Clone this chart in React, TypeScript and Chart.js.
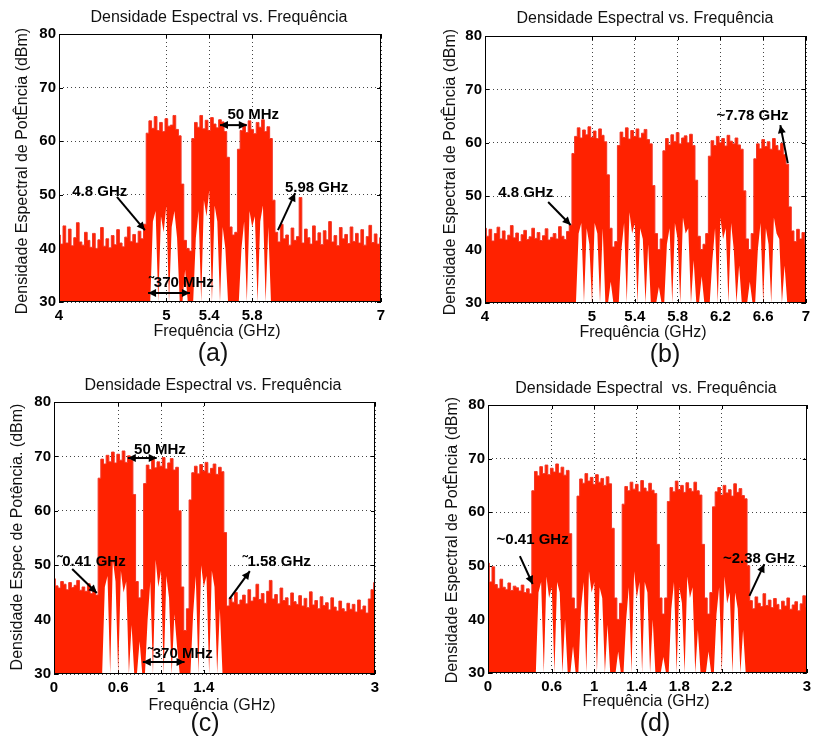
import React, { useEffect, useRef } from "react";
import { Chart, registerables } from "chart.js";

Chart.register(...registerables);

const FONT = "'Liberation Sans', Arial, Helvetica, sans-serif";
const RED = "#ff2200";
const STEP = 0.025;
const Y_TICKS = [30, 40, 50, 60, 70, 80];

// ---------- Panel (a) : 4 - 7 GHz, 3 bands ----------
const A_START = 4;
const A_END = 7;
const A_XTICKS = [4, 5, 5.4, 5.8, 7];
const A_HI = [
  42.5, 40.8, 44.2, 41.0, 43.6, 40.5, 42.0, 44.8, 41.2, 40.6,
  43.0, 41.5, 40.2, 42.8, 40.0, 41.6, 43.9, 40.4, 41.8, 40.1,
  42.4, 40.7, 43.5, 41.0, 40.3, 42.1, 44.0, 41.3, 42.6, 41.0,
  43.2, 41.8, 44.5,
  61.5, 63.8, 62.4, 64.6, 62.0, 63.5, 61.8, 64.2, 62.8, 63.0, 64.8, 62.2, 61.0,
  52.0, 41.5, 40.0, 39.5,
  60.5, 63.5, 62.6, 64.8, 62.3, 63.9, 62.0, 64.4, 63.2, 62.5, 64.0, 63.6, 61.8,
  57.0, 44.0, 42.5, 43.0,
  58.5, 62.0, 63.2, 61.6, 63.8, 62.2, 61.4, 63.5, 62.6, 64.0, 61.8, 62.7, 60.5,
  49.0,
  43.0, 41.2, 44.5, 41.8, 42.5, 40.6, 43.8, 41.5, 42.2, 49.5,
  41.0, 43.6, 42.0, 40.8, 44.2, 41.4, 42.9, 40.7, 43.3, 41.6,
  45.0, 41.2, 42.4, 40.5, 43.9, 41.8, 42.6, 40.9, 44.0, 41.3,
  42.8, 41.0, 43.5, 40.6, 42.2, 44.3, 41.1, 42.7, 40.8, 42.0,
];
const A_LO = [
  30, 30, 30, 30, 30, 30, 30, 30, 30, 30,
  30, 30, 30, 30, 30, 30, 30, 30, 30, 30,
  30, 30, 30, 30, 30, 30, 30, 30, 30, 30,
  30, 30, 30,
  30, 30, 45, 47, 30, 46, 43, 48, 30, 44, 47, 42, 30,
  30, 36, 30, 30,
  30, 42, 47, 30, 49, 46, 51, 30, 48, 45, 30, 44, 40,
  30, 30, 30, 30,
  30, 40, 45, 30, 47, 44, 46, 30, 45, 48, 30, 44, 30,
  30,
  30, 30, 30, 30, 30, 30, 30, 30, 30, 30,
  30, 30, 30, 30, 30, 30, 30, 30, 30, 30,
  30, 30, 30, 30, 30, 30, 30, 30, 30, 30,
  30, 30, 30, 30, 30, 30, 30, 30, 30, 30,
];

// ---------- Panel (b) : 4 - 7 GHz, 5 bands ----------
const B_START = 4;
const B_END = 7;
const B_XTICKS = [4, 5, 5.4, 5.8, 6.2, 6.6, 7];
const B_HI = [
  44.0, 42.5, 43.8, 41.6, 43.0, 44.2, 42.0, 43.5, 41.8, 42.7,
  44.5, 42.2, 43.1, 41.5, 42.8, 43.6, 41.9, 42.4, 44.0, 42.1,
  43.2, 41.7, 42.6, 43.9, 41.8, 42.3, 43.0, 42.0, 44.3, 42.5,
  41.9, 43.4, 44.6,
  58.0, 61.2, 62.8, 60.9, 62.4, 61.5, 63.0, 61.0, 62.2, 60.8, 62.6, 61.4, 60.2,
  54.0,
  44.0, 40.5, 41.5,
  59.5, 62.0, 61.0, 62.8, 60.7, 62.3, 61.2, 62.6, 60.9, 61.8, 62.5, 60.6, 59.8,
  52.0,
  43.0, 40.0, 42.0,
  58.5, 60.8, 59.6, 61.5, 60.2, 61.9, 59.8, 60.9, 61.3, 60.0, 61.6, 59.5,
  53.0,
  42.5, 40.0, 41.0, 43.0,
  57.5, 60.4, 59.5, 61.2, 60.0, 60.8, 59.4, 61.4, 60.3, 59.8, 60.9, 59.6, 58.8,
  51.0,
  42.0, 40.0, 43.0,
  57.0, 59.8, 58.9, 60.6, 59.3, 60.2, 58.8, 60.8, 59.5, 58.6, 59.9, 57.8, 56.0,
  48.0,
  43.5, 41.5, 43.8, 42.0, 43.2, 41.0,
];
const B_LO = [
  30, 30, 30, 30, 30, 30, 30, 30, 30, 30,
  30, 30, 30, 30, 30, 30, 30, 30, 30, 30,
  30, 30, 30, 30, 30, 30, 30, 30, 30, 30,
  30, 30, 30,
  30, 30, 43, 45, 30, 44, 41, 30, 45, 43, 30, 44, 30,
  30,
  34, 30, 30,
  30, 40, 45, 30, 47, 43, 45, 30, 44, 42, 30, 41, 30,
  30,
  30, 33, 30,
  30, 41, 44, 30, 45, 42, 30, 46, 43, 44, 30, 38,
  30,
  30, 35, 30, 30,
  30, 38, 44, 30, 46, 42, 44, 30, 45, 40, 30, 37, 30,
  30,
  30, 34, 30,
  30, 40, 45, 30, 44, 41, 30, 46, 43, 42, 30, 37, 30,
  30, 30, 30, 30, 30, 30, 30,
];

// ---------- Panel (c) : 0 - 3 GHz, 3 bands ----------
const C_START = 0;
const C_END = 3;
const C_XTICKS = [0, 0.6, 1, 1.4, 3];
const C_HI = [
  47.5, 46.2, 45.8, 47.0, 46.5, 45.5, 46.8, 45.9, 46.3, 47.2,
  45.4, 46.0, 45.2, 46.6, 44.8, 45.5, 44.5,
  66.0, 69.5, 68.6, 70.2, 69.0, 70.8, 68.8, 70.4, 69.3, 71.0, 68.9, 70.1, 69.4,
  63.0,
  47.0, 44.0, 45.5,
  65.0, 68.4, 67.6, 69.5, 67.9, 69.0, 68.2, 69.8, 67.7, 68.8, 69.6, 67.5, 68.0,
  60.0,
  46.0, 38.0, 42.0,
  62.0, 67.0, 68.2, 66.8, 68.5, 67.3, 68.9, 66.9, 67.8, 68.6, 66.7, 68.0, 67.2,
  56.0,
  42.5, 44.0, 43.2, 45.0, 42.8, 43.6, 44.5, 42.9, 45.5, 43.4,
  44.1, 46.5, 43.7, 44.8, 43.0, 45.2, 47.2, 43.8, 44.6, 42.9,
  45.8, 43.5, 44.0, 42.6, 44.9, 43.3, 42.8, 44.4, 42.5, 43.9,
  42.2, 45.1, 42.7, 43.5, 42.0, 44.2, 42.6, 43.1, 41.8, 44.0,
  42.3, 41.6, 43.4, 42.0, 41.5, 43.0, 41.9, 42.8, 41.4, 43.6,
  41.8, 42.5, 41.2, 43.8, 45.5, 46.8,
];
const C_LO = [
  30, 30, 30, 30, 30, 30, 30, 30, 30, 30,
  30, 30, 30, 30, 30, 30, 30,
  30, 30, 46, 48, 30, 51, 47, 30, 49, 45, 47, 30, 39,
  30,
  30, 36, 30,
  30, 40, 47, 30, 51, 46, 49, 30, 48, 44, 30, 41, 35,
  30,
  30, 30, 30,
  30, 41, 48, 30, 50, 46, 48, 30, 49, 46, 30, 42, 30,
  30, 30, 30, 30, 30, 30, 30, 30, 30, 30,
  30, 30, 30, 30, 30, 30, 30, 30, 30, 30,
  30, 30, 30, 30, 30, 30, 30, 30, 30, 30,
  30, 30, 30, 30, 30, 30, 30, 30, 30, 30,
  30, 30, 30, 30, 30, 30, 30, 30, 30, 30,
  30, 30, 30, 30, 30, 30, 30,
];

// ---------- Panel (d) : 0 - 3 GHz, 5 bands ----------
const D_START = 0;
const D_END = 3;
const D_XTICKS = [0, 0.6, 1, 1.4, 1.8, 2.2, 3];
const D_HI = [
  50.5, 47.0, 49.8, 46.5, 45.8, 47.5, 46.0, 45.6, 46.8, 45.4,
  46.2, 45.9, 45.3, 46.4, 45.0, 45.7, 44.8,
  64.0, 67.6, 66.8, 68.5, 67.2, 68.8, 67.0, 68.2, 67.5, 69.0, 67.3, 68.4, 66.9, 67.8,
  56.0,
  44.0, 42.0,
  63.0, 66.2, 65.4, 67.2, 65.8, 66.5, 65.2, 67.0, 65.6, 66.3, 65.0, 66.6, 65.3,
  57.0,
  44.0, 40.0, 43.0,
  61.5, 64.8, 64.0, 65.6, 64.3, 65.2, 63.8, 65.9, 64.5, 63.9, 65.4, 64.1, 63.5,
  54.0,
  44.0, 41.0, 44.0,
  62.0, 64.6, 63.8, 65.8, 64.2, 65.0, 63.7, 65.5, 64.4, 63.9, 65.6, 64.0, 63.2,
  54.0,
  44.0, 41.0, 45.0,
  61.0, 63.8, 64.6, 63.2, 65.0, 63.6, 64.2, 63.0, 65.3, 63.7, 64.4, 63.1, 62.5,
  50.0,
  43.5, 42.0, 44.2, 43.0, 42.4, 44.8, 42.6, 43.6, 42.2, 43.9,
  42.8, 41.8, 43.4, 42.5, 44.0, 41.9, 42.7, 43.3, 41.6, 42.9,
  44.4, 42.3,
];
const D_LO = [
  30, 30, 30, 30, 30, 30, 30, 30, 30, 30,
  30, 30, 30, 30, 30, 30, 30,
  30, 30, 45, 47, 30, 48, 44, 46, 30, 47, 45, 30, 40, 30,
  30,
  35, 30,
  30, 42, 47, 30, 49, 45, 47, 30, 46, 44, 30, 39, 30,
  30,
  30, 34, 30,
  30, 40, 46, 30, 49, 44, 47, 30, 47, 45, 30, 40, 30,
  30,
  30, 33, 30,
  30, 42, 47, 30, 46, 43, 30, 48, 44, 46, 30, 38, 30,
  30,
  30, 34, 30,
  30, 41, 46, 30, 48, 43, 45, 30, 45, 42, 30, 38, 30,
  30, 30, 30, 30, 30, 30, 30, 30, 30, 30,
  30, 30, 30, 30, 30, 30, 30, 30, 30, 30,
  30, 30, 30,
];

// ---------- annotations (data coordinates) ----------
type Label = { text: string; x: number; y: number };
type Arrow = { x1: number; y1: number; x2: number; y2: number; both?: boolean };

const A_LABELS: Label[] = [
  { text: "4.8 GHz", x: 4.38, y: 50.5 },
  { text: "5.98 GHz", x: 6.4, y: 51.3 },
  { text: "50 MHz", x: 5.81, y: 64.9 },
  { text: "\u02DC370 MHz", x: 5.14, y: 33.5 },
];
const A_ARROWS: Arrow[] = [
  { x1: 4.54, y1: 49.6, x2: 4.8, y2: 43.4 },
  { x1: 6.04, y1: 43.4, x2: 6.2, y2: 50.3 },
  { x1: 5.5, y1: 63.0, x2: 5.75, y2: 63.0, both: true },
  { x1: 4.83, y1: 31.7, x2: 5.22, y2: 31.7, both: true },
];
const B_LABELS: Label[] = [
  { text: "4.8 GHz", x: 4.38, y: 50.6 },
  { text: "~7.78 GHz", x: 6.5, y: 65.0 },
];
const B_ARROWS: Arrow[] = [
  { x1: 4.59, y1: 48.9, x2: 4.8, y2: 44.6 },
  { x1: 6.83, y1: 56.2, x2: 6.76, y2: 63.3 },
];
const C_LABELS: Label[] = [
  { text: "\u02DC0.41 GHz", x: 0.35, y: 50.6 },
  { text: "\u02DC1.58 GHz", x: 2.08, y: 50.6 },
  { text: "50 MHz", x: 0.99, y: 71.2 },
  { text: "\u02DC370 MHz", x: 1.18, y: 33.7 },
];
const C_ARROWS: Arrow[] = [
  { x1: 0.17, y1: 49.3, x2: 0.4, y2: 44.9 },
  { x1: 1.64, y1: 43.8, x2: 1.83, y2: 48.9 },
  { x1: 0.69, y1: 69.7, x2: 0.96, y2: 69.7, both: true },
  { x1: 0.83, y1: 32.2, x2: 1.22, y2: 32.2, both: true },
];
const D_LABELS: Label[] = [
  { text: "~0.41 GHz", x: 0.42, y: 54.8 },
  { text: "~2.38 GHz", x: 2.55, y: 51.3 },
];
const D_ARROWS: Arrow[] = [
  { x1: 0.3, y1: 51.8, x2: 0.42, y2: 46.6 },
  { x1: 2.46, y1: 44.4, x2: 2.6, y2: 50.3 },
];

const TITLE = "Densidade Espectral vs. Frequência";
const TITLE_D = "Densidade Espectral  vs. Frequência";
const YLABEL = "Densidade Espectral de PotÊncia (dBm)";
const YLABEL_C = "Densidade Espec de Potência. (dBm)";
const XLABEL = "Frequência (GHz)";

interface PanelCfg {
  left: number;
  top: number;
  area: { l: number; t: number; r: number; b: number };
  start: number;
  end: number;
  xticks: number[];
  hi: number[];
  lo: number[];
  title: string;
  ylabel: string;
  letter: string;
  titlePos: [number, number];
  ylabelPos: [number, number];
  xlabelPos: [number, number];
  letterPos: [number, number];
  labels: Label[];
  arrows: Arrow[];
}

const W = 408;
const H = 369;

const PANELS: PanelCfg[] = [
  {
    left: 0, top: 0, area: { l: 59, t: 34, r: 381, b: 302 },
    start: A_START, end: A_END, xticks: A_XTICKS, hi: A_HI, lo: A_LO,
    title: TITLE, ylabel: YLABEL, letter: "(a)",
    titlePos: [219, 18], ylabelPos: [23, 171], xlabelPos: [217, 332], letterPos: [213, 354],
    labels: A_LABELS, arrows: A_ARROWS,
  },
  {
    left: 408, top: 0, area: { l: 77, t: 36, r: 398, b: 303 },
    start: B_START, end: B_END, xticks: B_XTICKS, hi: B_HI, lo: B_LO,
    title: TITLE, ylabel: YLABEL, letter: "(b)",
    titlePos: [237, 19], ylabelPos: [43, 172], xlabelPos: [235, 333], letterPos: [257, 355],
    labels: B_LABELS, arrows: B_ARROWS,
  },
  {
    left: 0, top: 369, area: { l: 54, t: 33, r: 375, b: 305 },
    start: C_START, end: C_END, xticks: C_XTICKS, hi: C_HI, lo: C_LO,
    title: TITLE, ylabel: YLABEL_C, letter: "(c)",
    titlePos: [213, 17], ylabelPos: [18, 168], xlabelPos: [212, 337], letterPos: [205, 355],
    labels: C_LABELS, arrows: C_ARROWS,
  },
  {
    left: 408, top: 369, area: { l: 80, t: 36, r: 401, b: 304 },
    start: D_START, end: D_END, xticks: D_XTICKS, hi: D_HI, lo: D_LO,
    title: TITLE_D, ylabel: YLABEL, letter: "(d)",
    titlePos: [238, 20], ylabelPos: [45, 171], xlabelPos: [238, 333], letterPos: [247, 355],
    labels: D_LABELS, arrows: D_ARROWS,
  },
];

function drawArrowHead(ctx: CanvasRenderingContext2D, x1: number, y1: number, x2: number, y2: number) {
  const ang = Math.atan2(y2 - y1, x2 - x1);
  const len = 8;
  const w = 4;
  const bx = x2 - len * Math.cos(ang);
  const by = y2 - len * Math.sin(ang);
  ctx.beginPath();
  ctx.moveTo(x2, y2);
  ctx.lineTo(bx + w * Math.sin(ang), by - w * Math.cos(ang));
  ctx.lineTo(bx - w * Math.sin(ang), by + w * Math.cos(ang));
  ctx.closePath();
  ctx.fill();
}

function makePlugin(cfg: PanelCfg) {
  return {
    id: "decor",
    beforeDatasetsDraw(chart: any) {
      const { ctx, chartArea: ca, scales } = chart;
      ctx.save();
      ctx.strokeStyle = "#000";
      ctx.lineWidth = 1;
      ctx.beginPath();
      for (const v of cfg.xticks) {
        const px = Math.round(scales.x.getPixelForValue(v)) + 0.5;
        ctx.moveTo(px, ca.bottom);
        ctx.lineTo(px, ca.bottom - 4);
        ctx.moveTo(px, ca.top);
        ctx.lineTo(px, ca.top + 4);
      }
      for (const v of Y_TICKS) {
        const py = Math.round(scales.y.getPixelForValue(v)) + 0.5;
        ctx.moveTo(ca.left, py);
        ctx.lineTo(ca.left + 4, py);
        ctx.moveTo(ca.right, py);
        ctx.lineTo(ca.right - 4, py);
      }
      ctx.stroke();
      ctx.restore();
    },
    afterDatasetsDraw(chart: any) {
      const { ctx, chartArea: ca, scales } = chart;
      ctx.save();
      ctx.strokeStyle = "#000";
      ctx.lineWidth = 1;
      ctx.strokeRect(Math.round(ca.left) + 0.5, Math.round(ca.top) + 0.5,
        Math.round(ca.right - ca.left) - 1, Math.round(ca.bottom - ca.top) - 1);
      ctx.strokeStyle = "#000";
      ctx.fillStyle = "#000";
      ctx.lineWidth = 2;
      for (const a of cfg.arrows) {
        const x1 = scales.x.getPixelForValue(a.x1);
        const y1 = scales.y.getPixelForValue(a.y1);
        const x2 = scales.x.getPixelForValue(a.x2);
        const y2 = scales.y.getPixelForValue(a.y2);
        ctx.beginPath();
        ctx.moveTo(x1, y1);
        ctx.lineTo(x2, y2);
        ctx.stroke();
        drawArrowHead(ctx, x1, y1, x2, y2);
        if (a.both) drawArrowHead(ctx, x2, y2, x1, y1);
      }
      ctx.font = `bold 15px ${FONT}`;
      ctx.textAlign = "center";
      ctx.textBaseline = "middle";
      for (const l of cfg.labels) {
        ctx.fillText(l.text, scales.x.getPixelForValue(l.x), scales.y.getPixelForValue(l.y));
      }
      ctx.restore();
    },
    afterDraw(chart: any) {
      const { ctx } = chart;
      ctx.save();
      ctx.fillStyle = "#111";
      ctx.textAlign = "center";
      ctx.textBaseline = "middle";
      ctx.font = `16px ${FONT}`;
      ctx.fillText(cfg.title, cfg.titlePos[0], cfg.titlePos[1]);
      ctx.fillText(XLABEL, cfg.xlabelPos[0], cfg.xlabelPos[1]);
      ctx.save();
      ctx.translate(cfg.ylabelPos[0], cfg.ylabelPos[1]);
      ctx.rotate(-Math.PI / 2);
      ctx.fillText(cfg.ylabel, 0, 0);
      ctx.restore();
      ctx.font = `25px ${FONT}`;
      ctx.fillText(cfg.letter, cfg.letterPos[0], cfg.letterPos[1]);
      ctx.restore();
    },
  };
}

function Panel({ cfg }: { cfg: PanelCfg }) {
  const ref = useRef<HTMLCanvasElement>(null);
  useEffect(() => {
    const canvas = ref.current;
    if (!canvas) return;
    const hiData = cfg.hi.map((v, i) => ({ x: +(cfg.start + i * STEP).toFixed(3), y: v }));
    const loData = cfg.lo.map((v, i) => ({ x: +(cfg.start + i * STEP).toFixed(3), y: v }));
    const tickFont = { family: FONT, size: 15, weight: "bold" as const };
    const chart = new Chart(canvas, {
      type: "line",
      data: {
        datasets: [
          {
            data: hiData,
            fill: "+1",
            backgroundColor: RED,
            borderColor: "#f23525",
            borderWidth: 1,
            pointRadius: 0,
            stepped: "middle",
          },
          {
            data: loData,
            fill: false,
            borderWidth: 0,
            borderColor: "rgba(0,0,0,0)",
            pointRadius: 0,
            tension: 0,
          },
        ],
      },
      options: {
        responsive: false,
        animation: false,
        events: [],
        layout: { padding: { left: 0, top: cfg.area.t, right: W - cfg.area.r, bottom: 0 } },
        plugins: { legend: { display: false }, tooltip: { enabled: false }, title: { display: false } },
        scales: {
          x: {
            type: "linear",
            min: cfg.start,
            max: cfg.end,
            afterBuildTicks: (axis: any) => {
              axis.ticks = cfg.xticks.map((v) => ({ value: v }));
            },
            afterFit: (scale: any) => {
              scale.height = H - cfg.area.b;
            },
            grid: { color: "#444", lineWidth: 1, drawTicks: false },
            border: { display: false, dash: [1, 3] },
            ticks: {
              autoSkip: false,
              maxRotation: 0,
              padding: 5,
              color: "#000",
              font: tickFont,
              callback: (v: any) => String(Number(Number(v).toFixed(2))),
            },
          },
          y: {
            type: "linear",
            min: 30,
            max: 80,
            afterBuildTicks: (axis: any) => {
              axis.ticks = Y_TICKS.map((v) => ({ value: v }));
            },
            afterFit: (scale: any) => {
              scale.width = cfg.area.l;
            },
            grid: { color: "#444", lineWidth: 1, drawTicks: false },
            border: { display: false, dash: [1, 3] },
            ticks: { padding: 3, color: "#000", font: tickFont },
          },
        },
      },
      plugins: [makePlugin(cfg)],
    } as any);
    return () => chart.destroy();
  }, [cfg]);
  return (
    <div style={{ position: "absolute", left: cfg.left, top: cfg.top, width: W, height: H }}>
      <canvas ref={ref} width={W} height={H} style={{ width: W, height: H, display: "block" }} />
    </div>
  );
}

export default function App() {
  return (
    <div style={{ position: "fixed", left: 0, top: 0, width: 816, height: 738, background: "#fff" }}>
      {PANELS.map((p, i) => (
        <Panel key={i} cfg={p} />
      ))}
    </div>
  );
}
